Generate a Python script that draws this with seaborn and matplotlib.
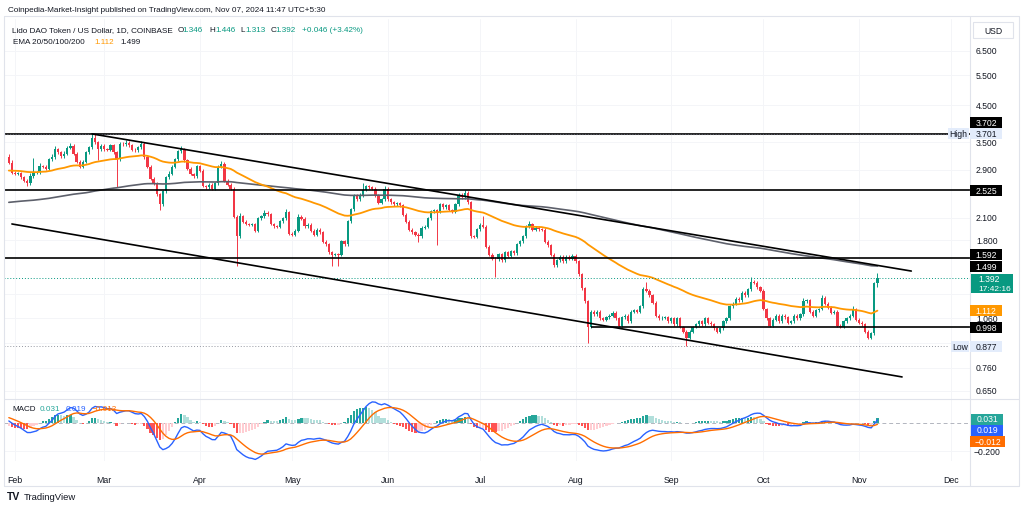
import numpy as np
import pandas as pd
import matplotlib
matplotlib.use("Agg")
import matplotlib.pyplot as plt
from matplotlib.patches import Rectangle
from matplotlib.lines import Line2D
from matplotlib.ticker import NullLocator
import seaborn as sns

# ---------------- data ----------------
start_date = "2024-01-30"
first_open = 3.16
closes = [
    3.04, 2.84, 2.82, 2.83, 2.76, 2.69, 2.65, 2.78, 2.84, 2.85,
    2.97, 2.96, 2.92, 3.12, 3.16, 3.34, 3.27, 3.18, 3.23, 3.37,
    3.41, 3.23, 3.06, 2.96, 3.06, 3.27, 3.38, 3.60, 3.50, 3.34,
    3.41, 3.34, 3.32, 3.43, 3.27, 3.12, 3.46, 3.45, 3.48, 3.43,
    3.32, 3.31, 3.38, 3.46, 3.16, 2.96, 2.73, 2.65, 2.46, 2.30,
    2.51, 2.76, 2.82, 2.96, 3.12, 3.29, 3.34, 3.10, 2.92, 2.82,
    2.78, 2.97, 2.88, 2.60, 2.58, 2.62, 2.55, 2.65, 2.96, 3.02,
    2.69, 2.62, 2.55, 2.11, 1.85, 2.12, 2.04, 2.01, 2.00, 2.01,
    1.92, 2.09, 2.12, 2.17, 2.15, 2.01, 1.98, 1.97, 2.05, 2.09,
    2.18, 1.88, 1.87, 1.92, 2.11, 2.08, 1.98, 2.00, 1.92, 1.87,
    1.93, 1.90, 1.78, 1.75, 1.66, 1.63, 1.64, 1.63, 1.79, 1.75,
    2.05, 2.22, 2.43, 2.38, 2.43, 2.53, 2.60, 2.58, 2.55, 2.43,
    2.32, 2.38, 2.55, 2.38, 2.33, 2.30, 2.31, 2.28, 2.14, 2.04,
    1.93, 1.90, 1.87, 1.85, 1.96, 1.97, 2.09, 2.19, 2.21, 2.18,
    2.30, 2.25, 2.28, 2.21, 2.18, 2.30, 2.45, 2.41, 2.48, 2.33,
    1.85, 1.84, 1.94, 2.00, 1.97, 1.72, 1.63, 1.59, 1.58, 1.64,
    1.57, 1.66, 1.62, 1.67, 1.65, 1.75, 1.79, 1.85, 1.97, 2.01,
    1.93, 1.96, 1.94, 1.93, 1.78, 1.74, 1.63, 1.52, 1.57, 1.61,
    1.56, 1.61, 1.59, 1.62, 1.56, 1.43, 1.30, 1.19, 1.00, 1.11,
    1.09, 1.11, 1.06, 1.05, 1.07, 1.08, 1.10, 1.06, 1.01, 1.07,
    1.08, 1.04, 1.11, 1.12, 1.11, 1.15, 1.29, 1.28, 1.24, 1.18,
    1.08, 1.06, 1.065, 1.07, 1.04, 1.06, 1.02, 1.06, 1.00, 0.97,
    0.93, 0.97, 1.00, 1.02, 1.04, 1.02, 1.06, 1.03, 1.02, 0.99,
    0.97, 0.99, 1.04, 1.06, 1.15, 1.17, 1.21, 1.20, 1.26, 1.24,
    1.29, 1.36, 1.35, 1.31, 1.28, 1.13, 1.06, 1.01, 1.05, 1.08,
    1.04, 1.08, 1.07, 1.03, 1.04, 1.08, 1.06, 1.09, 1.19, 1.20,
    1.11, 1.08, 1.12, 1.13, 1.22, 1.17, 1.14, 1.10, 1.11, 1.01,
    1.00, 1.04, 1.06, 1.08, 1.13, 1.05, 1.03, 1.02, 0.97, 0.93,
    0.96, 1.346, 1.392,
]
upper_wick_pct = [
    2, 2, 1, 1, 1, 1, 1, 2, 11, 1,
    2, 1, 1, 1, 2, 2, 1, 1, 2, 1,
    2, 1, 1, 1, 1, 1, 1, 2.8, 2.5, 1,
    1, 1, 1, 1, 1, 1, 1, 1, 2, 1,
    1, 1, 1, 2, 1, 1, 1, 1, 1, 1,
    1, 1, 2, 1, 1, 1, 2, 1, 1, 1,
    1, 1, 1, 1, 1, 1, 1, 1, 1, 2,
    1, 1, 1, 1, 1, 2, 1, 1, 1, 1,
    1, 1, 1, 2, 1, 1, 1, 1, 1, 1,
    2, 1, 1, 1, 2, 1, 1, 1, 1, 1,
    1, 1, 1, 1, 1, 1, 1, 1, 1, 1,
    1, 1, 1, 1, 2, 5, 1, 1, 1, 1,
    1, 1, 2, 1, 1, 1, 1, 1, 1, 1,
    1, 1, 1, 1, 1, 1, 1, 1, 1, 1,
    1, 1, 1, 1, 1, 1, 1, 1, 2, 1,
    1, 1, 1, 1, 6, 1, 1, 1, 1, 1,
    1, 1, 1, 1, 1, 1, 1, 1, 1, 2,
    1, 1, 1, 1, 1, 1, 1, 1, 1, 1,
    1, 1, 1, 1, 1, 1, 1, 1, 1, 1,
    1, 1, 1, 1, 1, 1, 1, 1, 1, 1,
    1, 1, 1, 1, 1, 1, 2, 5, 1, 1,
    1, 1, 1, 1, 1, 1, 1, 1, 1, 1,
    1, 1, 1, 1, 1, 1, 1, 1, 1, 1,
    1, 1, 1, 1, 1, 1, 1, 1, 1, 1,
    1, 3, 1, 1, 1, 1, 1, 1, 1, 1,
    1, 1, 1, 1, 1, 1, 1, 1, 2, 1,
    1, 1, 1, 1, 2, 1, 1, 1, 1, 1,
    1, 1, 1, 1, 2, 1, 1, 1, 1, 1,
    1, 1, 3.9,
]
lower_wick_pct = [
    1, 1, 1, 1, 1, 1, 2, 1, 1, 1,
    1, 1, 1, 1, 1, 1, 1, 1, 1, 1,
    1, 1, 1, 1, 1, 1, 1, 1, 1, 7,
    1, 1, 1, 1, 1, 17, 1, 1, 1, 1,
    1, 1, 1, 1, 1, 1, 1, 1, 1, 4,
    1, 1, 1, 1, 1, 1, 1, 1, 1, 1,
    1, 1, 1, 1, 1, 1, 1, 1, 1, 1,
    1, 1, 1, 1, 18, 1, 1, 1, 1, 1,
    1, 1, 1, 1, 1, 1, 1, 1, 1, 1,
    1, 1, 1, 1, 1, 1, 1, 1, 1, 1,
    1, 1, 1, 1, 1, 7, 1, 7, 1, 1,
    1, 1, 1, 1, 1, 1, 1, 1, 1, 1,
    1, 1, 1, 1, 1, 1, 1, 1, 1, 1,
    1, 1, 1, 4, 1, 1, 1, 1, 1, 20,
    1, 1, 1, 1, 1, 1, 1, 1, 1, 1,
    1, 1, 1, 1, 1, 1, 1, 1, 11, 1,
    1, 1, 1, 1, 1, 1, 1, 1, 1, 1,
    1, 1, 1, 1, 1, 1, 1, 1, 1, 1,
    1, 1, 1, 1, 1, 1, 1, 1, 10, 1,
    1, 1, 1, 1, 1, 1, 1, 1, 1, 1,
    1, 1, 1, 1, 1, 1, 1, 1, 1, 1,
    1, 1, 1, 1, 1, 1, 1, 1, 1, 1,
    5.7, 1, 1, 1, 1, 1, 1, 1, 1, 1,
    1, 1, 1, 1, 1, 1, 1, 1, 1, 1,
    1, 1, 1, 1, 1, 1, 1, 1, 1, 1,
    1, 1, 1, 1, 1, 1, 1, 1, 1, 1,
    1, 1, 1, 1, 1, 1, 1, 1, 1, 1,
    1, 1, 1, 1, 1, 1, 1, 1, 1, 1,
    1, 1, 2.45,
]
ema50_seed = 2.88
ema200_seed = 2.32
macd_fast_seed = 3.02
macd_slow_seed = 3.01
macd_signal_seed = 0.04

# last indicator readings printed by the chart
ema_last = ["1.112", "1.499"]
macd_last = ["0.031", "0.019", "\u22120.012"]

level_lines = [3.702, 2.525, 1.592]
support_level = 0.998
support_start = "2024-08-06"
period_high = 3.701
period_low = 0.877
last_price = 1.392
upper_trend_dates = ["2024-02-26", "2024-11-18"]
upper_trend_prices = [3.70, 1.461]
lower_trend_dates = ["2024-01-31", "2024-11-15"]
lower_trend_prices = [2.01, 0.713]
price_ticks = [6.5, 5.5, 4.5, 3.5, 2.9, 2.1, 1.8, 1.25, 1.06, 0.9, 0.76, 0.65]
hidden_tick_labels = [1.25, 0.9]
macd_ticks = [-0.2]
month_starts = ["2024-02-01", "2024-03-01", "2024-04-01", "2024-05-01", "2024-06-01",
                "2024-07-01", "2024-08-01", "2024-09-01", "2024-10-01", "2024-11-01",
                "2024-12-01"]
month_labels = ["Feb", "Mar", "Apr", "May", "Jun", "Jul", "Aug", "Sep", "Oct", "Nov", "Dec"]

# ---------------- derived series ----------------
origin = pd.Timestamp("2024-02-01")
def day_of(d):
    return (pd.to_datetime(d) - origin).days

dates = pd.date_range(start_date, periods=len(closes), freq="D")
xd = np.asarray((dates - origin).days, dtype=float)
c = np.array(closes, dtype=float)
o = np.r_[first_open, c[:-1]]
hi = np.maximum(o, c) * (1 + np.array(upper_wick_pct) / 100)
lo = np.minimum(o, c) * (1 - np.array(lower_wick_pct) / 100)

def ema(values, n, seed):
    a = 2.0 / (n + 1)
    out, e = [], seed
    for v in values:
        e = a * v + (1 - a) * e
        out.append(e)
    return np.array(out)

ema50 = ema(c, 50, ema50_seed)
ema200 = ema(c, 200, ema200_seed)
macd = ema(c, 12, macd_fast_seed) - ema(c, 26, macd_slow_seed)
signal = ema(macd, 9, macd_signal_seed)
hist = macd - signal

df = pd.DataFrame({"day": xd, "ema50": ema50, "ema200": ema200,
                   "macd": macd, "signal": signal})

# ---------------- style ----------------
sns.set_theme(style="white")
plt.rcParams["font.family"] = ["Liberation Sans", "DejaVu Sans"]
TXT = "#131722"
UP, DN = "#089981", "#f23645"
GRID = "#f4f5f8"

W, H = 1024, 510
fig = plt.figure(figsize=(W / 100, H / 100), dpi=100, facecolor="white")
def fx(px): return px / W
def fy(py): return 1 - py / H

L, R = 4, 970
ax = fig.add_axes([fx(L), fy(400), (R - L) / W, (400 - 20) / H])
axm = fig.add_axes([fx(L), fy(462), (R - L) / W, (462 - 400) / H], sharex=ax)

xmin, xmax = -3.57, 310.06
month_x = [day_of(m) for m in month_starts]

for a in (ax, axm):
    a.set_facecolor("white")
    for s in a.spines.values():
        s.set_visible(False)
    a.set_xticks(month_x)
    a.grid(True, color=GRID, lw=0.7)
    a.set_axisbelow(True)

ax.set_yscale("log")
ax.set_xlim(xmin, xmax)
ax.set_ylim(0.614, 8.06)
ax.set_yticks(price_ticks)
ax.yaxis.set_minor_locator(NullLocator())
ax.tick_params(left=False, right=False, bottom=False, labelleft=False,
               labelright=False, labelbottom=False)
axm.set_ylim(-0.270, 0.165)
axm.set_yticks(macd_ticks)
axm.tick_params(left=False, right=False, bottom=False, labelleft=False,
                labelright=False, labelbottom=True, labelsize=6.3,
                labelcolor=TXT, pad=4)
axm.set_xticklabels(month_labels)

# horizontal levels
for lv in level_lines:
    ax.hlines(lv, xmin, xmax, color="black", lw=1.2, zorder=4)
ax.hlines(support_level, day_of(support_start), xmax, color="black", lw=1.2, zorder=4)
ax.axhline(period_high, xmin=0, xmax=(948 - L) / (R - L), color="#5d606b",
           lw=0.8, ls=(0, (1, 1.5)), zorder=4)
ax.axhline(period_low, xmin=0, xmax=(948 - L) / (R - L), color="#9598a1",
           lw=0.7, ls=(0, (1, 2)), zorder=4)
ax.axhline(last_price, color=UP, lw=0.7, ls=(0, (1, 2)), zorder=4)

# trend channel
sns.lineplot(x=[day_of(d) for d in upper_trend_dates], y=upper_trend_prices,
             ax=ax, color="black", lw=1.2, zorder=4)
sns.lineplot(x=[day_of(d) for d in lower_trend_dates], y=lower_trend_prices,
             ax=ax, color="black", lw=1.2, zorder=4)

# candles
colors = np.where(c >= o, UP, DN)
ax.vlines(xd, lo, hi, colors=colors, lw=0.7, zorder=2)
body = np.maximum(np.abs(c - o), 0.004 * c)
ax.bar(xd, body, bottom=np.minimum(o, c), width=0.74, color=colors,
       edgecolor="none", zorder=2)

# EMAs
sns.lineplot(data=df, x="day", y="ema200", ax=ax, color="#5d606b", lw=1.2, zorder=3)
sns.lineplot(data=df, x="day", y="ema50", ax=ax, color="#ff9800", lw=1.3, zorder=3)
ax.set_xlabel(""); ax.set_ylabel("")

# MACD pane
prev = np.r_[hist[0], hist[:-1]]
hcol = np.where(hist >= 0, np.where(hist > prev, "#26a69a", "#b2dfdb"),
                np.where(hist < prev, "#ff5252", "#ffcdd2"))
axm.bar(xd, hist, width=0.74, color=hcol, edgecolor="none", zorder=2)
axm.axhline(0, color="#b2b5be", lw=0.7, ls=(0, (4, 3)), zorder=1)
sns.lineplot(data=df, x="day", y="macd", ax=axm, color="#2962ff", lw=1.0, zorder=3)
sns.lineplot(data=df, x="day", y="signal", ax=axm, color="#ff6d00", lw=1.0, zorder=3)
axm.set_xlabel(""); axm.set_ylabel("")
axm.set_xlim(xmin, xmax)

# ---------------- frame lines ----------------
def fline(x0, y0, x1, y1, col="#e0e3eb", lw=0.8):
    fig.lines.append(Line2D([fx(x0), fx(x1)], [fy(y0), fy(y1)], transform=fig.transFigure,
                            color=col, lw=lw, zorder=1))
fline(L, 17, 1019, 17)
fline(L, 17, L, 487)
fline(1019, 17, 1019, 487)
fline(L, 487, 1019, 487)
fline(R, 17, R, 487)
fline(L, 400, 1019, 400)

# ---------------- right scale labels & badges ----------------
def ypx(axis, v):
    return H - axis.transData.transform((0, v))[1]

for t in price_ticks:
    if t in hidden_tick_labels:
        continue
    fig.text(fx(976), fy(ypx(ax, t)), f"{t:.3f}", fontsize=6.2, color=TXT,
             ha="left", va="center", zorder=2)
for t in macd_ticks:
    fig.text(fx(974), fy(ypx(axm, t)), f"\u2212{abs(t):.3f}", fontsize=6.2, color=TXT,
             ha="left", va="center", zorder=2)

def badge(yc, text, fc, tc="white", x0=970, w=32, h=11, size=6.2):
    fig.patches.append(Rectangle((fx(x0), fy(yc + h / 2)), w / W, h / H,
                                 transform=fig.transFigure, fc=fc, ec="none", zorder=5))
    fig.text(fx(x0 + w / 2), fy(yc), text, fontsize=size, color=tc, ha="center",
             va="center", zorder=6)

badge(ypx(ax, 3.702) - 11, "3.702", "black")
badge(ypx(ax, period_high), "3.701", "#e3ecfb", tc=TXT)
badge(ypx(ax, period_high), "High", "#e3ecfb", tc=TXT, x0=948, w=21)
badge(ypx(ax, 2.525), "2.525", "black")
badge(ypx(ax, 1.592) - 4, "1.592", "black")
badge(ypx(ax, ema200[-1]), ema_last[1], "black")
yl = ypx(ax, last_price)
fig.patches.append(Rectangle((fx(971), fy(yl + 15)), 42 / W, 19 / H,
                             transform=fig.transFigure, fc=UP, ec="none", zorder=5))
fig.text(fx(978), fy(yl + 0.5), "1.392", fontsize=6.2, color="white", ha="left",
         va="center", zorder=6)
fig.text(fx(978), fy(yl + 10.5), "17:42:16", fontsize=6.0, color="white", ha="left",
         va="center", zorder=6)
badge(ypx(ax, ema50[-1]), ema_last[0], "#ff9800")
badge(ypx(ax, support_level), "0.998", "black")
badge(ypx(ax, period_low), "0.877", "#e3ecfb", tc=TXT)
badge(ypx(ax, period_low), "Low", "#e3ecfb", tc=TXT, x0=951, w=18)

badge(420, macd_last[0], "#26a69a", x0=971)
badge(431, macd_last[1], "#2962ff", x0=971)
badge(442.5, macd_last[2], "#ff6d00", x0=970, w=35)

# USD box
fig.patches.append(Rectangle((fx(973), fy(39)), 40 / W, 16 / H, transform=fig.transFigure,
                             fc="white", ec="#e0e3eb", lw=0.8, zorder=5))
fig.text(fx(993), fy(31), "USD", fontsize=6.2, color=TXT, ha="center", va="center", zorder=6)

# ---------------- header texts ----------------
fig.text(fx(8), fy(10.5), "Coinpedia-Market-Insight published on TradingView.com, "
         "Nov 07, 2024 11:47 UTC+5:30", fontsize=5.9, color=TXT, ha="left", va="center")

def piece(x, y, s, col, size=5.9):
    fig.text(fx(x), fy(y), s, fontsize=size, color=col, ha="left", va="center", zorder=6)

y1 = 30.5
piece(12.5, y1, "Lido DAO Token / US Dollar, 1D, COINBASE", TXT)
piece(177.5, y1, "O", TXT); piece(182.5, y1, f"{o[-1]:.3f}", UP)
piece(209.5, y1, "H", TXT); piece(215, y1, f"{hi[-1]:.3f}", UP)
piece(240.5, y1, "L", TXT); piece(245, y1, f"{lo[-1]:.3f}", UP)
piece(270.5, y1, "C", TXT); piece(275.5, y1, f"{c[-1]:.3f}", UP)
chg = c[-1] - c[-2]
piece(302, y1, f"+{chg:.3f} (+{chg / c[-2] * 100:.2f}%)", UP)
y2 = 42.3
piece(13, y2, "EMA 20/50/100/200", TXT)
piece(94, y2, ema_last[0], "#ff9800")
piece(120, y2, ema_last[1], TXT)

y3 = 409.5
piece(12.7, y3, "MACD", TXT)
piece(40, y3, macd_last[0], "#26a69a")
piece(66, y3, macd_last[1], "#2962ff")
piece(92, y3, macd_last[2], "#ff6d00")

# TradingView footer
fig.text(fx(7), fy(497.5), "TV", fontsize=7.5, color=TXT, fontweight="heavy",
         ha="left", va="center")
fig.text(fx(24), fy(497.5), "TradingView", fontsize=6.8, color=TXT, ha="left", va="center")

fig.savefig("out.png", dpi=100, facecolor="white")
